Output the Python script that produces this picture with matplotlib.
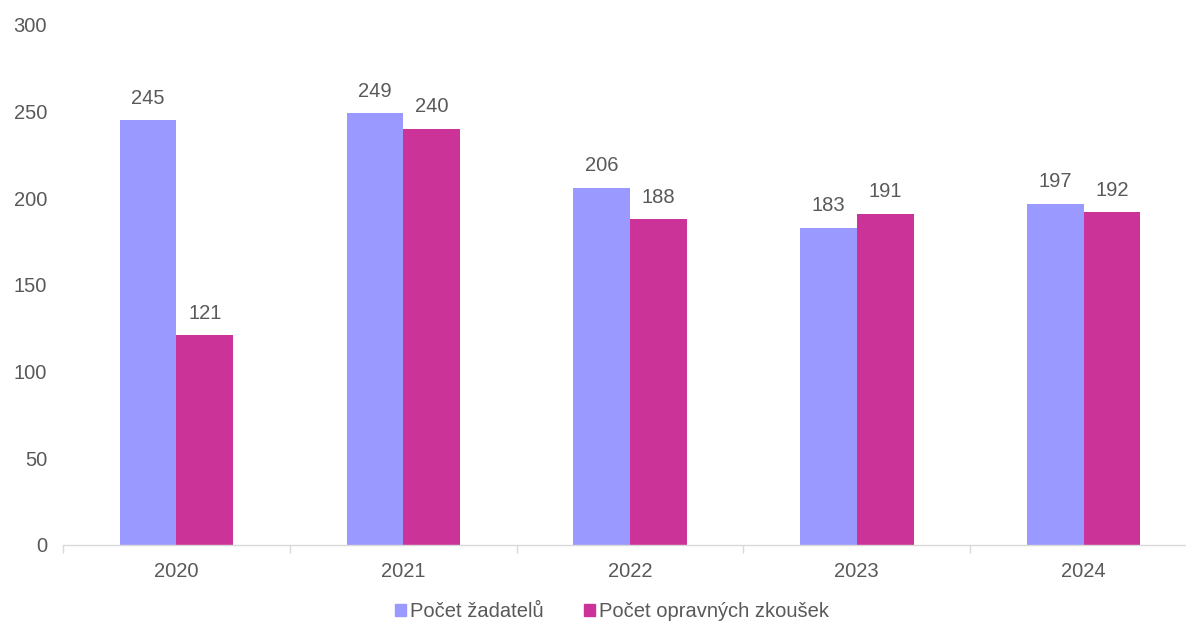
import matplotlib
matplotlib.use("Agg")
import matplotlib.pyplot as plt
import numpy as np
from matplotlib.patches import Patch

years = ["2020", "2021", "2022", "2023", "2024"]
zadatelu = [245, 249, 206, 183, 197]
zkousek = [121, 240, 188, 191, 192]
series_names = ["Počet žadatelů", "Počet opravných zkoušek"]
colors = ["#9999FF", "#CC3399"]
yticks = [0, 50, 100, 150, 200, 250, 300]

plt.rcParams['font.family'] = ['Liberation Sans', 'DejaVu Sans']
text_color = "#595959"
fs = 14.5

fig = plt.figure(figsize=(11.86, 6.24), dpi=100)
ax = fig.add_axes([63/1186, 79/624, (1197-63)/1186, 520/624])

x = np.arange(len(years))
w = 0.25
b1 = ax.bar(x - w/2, zadatelu, w, color=colors[0], label=series_names[0])
b2 = ax.bar(x + w/2, zkousek, w, color=colors[1], label=series_names[1])

for bars, vals in ((b1, zadatelu), (b2, zkousek)):
    for r, v in zip(bars, vals):
        ax.annotate(str(v), (r.get_x() + r.get_width()/2, v), xytext=(0, 9),
                    textcoords="offset points", ha="center", va="bottom",
                    fontsize=fs, color=text_color)

ax.set_xlim(-0.5, len(years) - 0.5)
ax.set_ylim(0, 300)
ax.set_yticks(yticks)
ax.set_yticklabels([str(t) for t in yticks])
ax.set_xticks(x)
ax.set_xticklabels(years)
ax.set_xticks(np.arange(len(years) + 1) - 0.5, minor=True)
ax.tick_params(axis='x', which='major', length=0, pad=12, labelsize=fs, labelcolor=text_color)
ax.tick_params(axis='x', which='minor', length=6, color="#d9d9d9", width=1)
ax.tick_params(axis='y', length=0, pad=11.5, labelsize=fs, labelcolor=text_color)
for s in ["top", "right", "left"]:
    ax.spines[s].set_visible(False)
ax.spines["bottom"].set_color("#d9d9d9")
ax.spines["bottom"].set_linewidth(1)

handles = [Patch(color=colors[0]), Patch(color=colors[1])]
fig.legend(handles, series_names, loc="center", bbox_to_anchor=(0.516, 0.02),
           ncol=2, frameon=False, fontsize=fs, labelcolor=text_color,
           handlelength=0.55, handleheight=0.55, handletextpad=0.2, columnspacing=2.0)

fig.savefig("out.png", dpi=100)
